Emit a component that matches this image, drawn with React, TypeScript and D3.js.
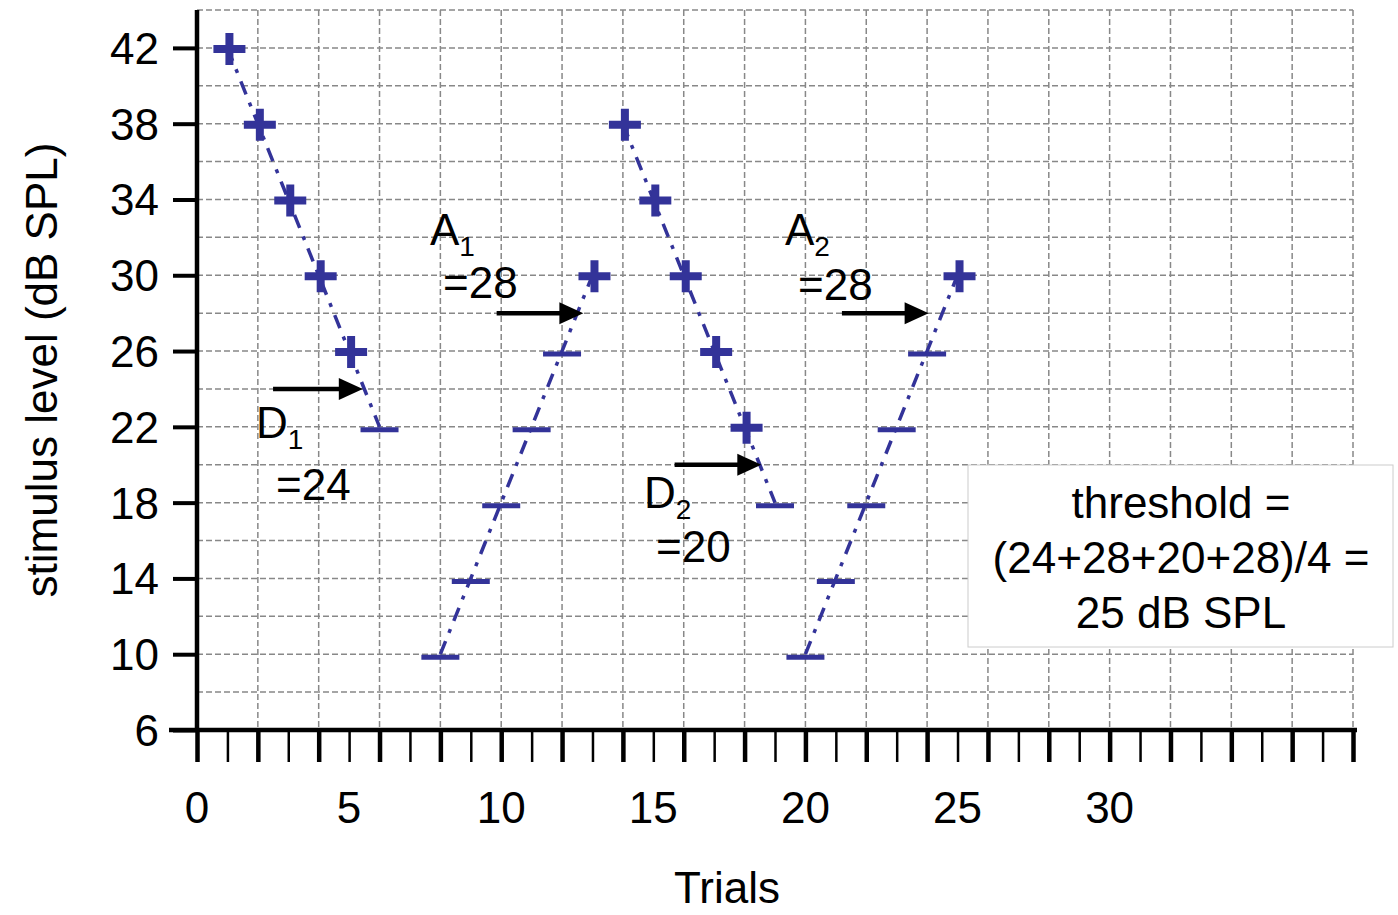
import React, { useRef, useEffect } from 'react';
import * as d3 from 'd3';

// staircase runs: trial number, stimulus level, response (+ heard / - not heard)
const run1Trials = [1, 2, 3, 4, 5, 6];
const run1Levels = [42, 38, 34, 30, 26, 22];
const run1Heard = [true, true, true, true, true, false];

const run2Trials = [8, 9, 10, 11, 12, 13];
const run2Levels = [10, 14, 18, 22, 26, 30];
const run2Heard = [false, false, false, false, false, true];

const run3Trials = [14, 15, 16, 17, 18, 19];
const run3Levels = [38, 34, 30, 26, 22, 18];
const run3Heard = [true, true, true, true, true, false];

const run4Trials = [20, 21, 22, 23, 24, 25];
const run4Levels = [10, 14, 18, 22, 26, 30];
const run4Heard = [false, false, false, false, false, true];

// reversal points
const reversalNames = ['D', 'A', 'D', 'A'];
const reversalSubs = ['1', '1', '2', '2'];
const reversalLevels = [24, 28, 20, 28];
const arrowFromTrials = [2.5, 9.85, 15.7, 21.2];
const arrowToTrials = [5.45, 12.7, 18.55, 24.05];

const yTickValues = [6, 10, 14, 18, 22, 26, 30, 34, 38, 42];
const xTickLabels = [0, 5, 10, 15, 20, 25, 30];
const thresholdLines = ['threshold =', '(24+28+20+28)/4 =', '25 dB SPL'];

// label placement (pixels) for the reversal annotations
const labelLayout = [
  { nx: 256, ny: 438, vx: 276, vy: 500 },
  { nx: 430, ny: 245, vx: 443, vy: 298 },
  { nx: 644, ny: 508, vx: 656, vy: 562 },
  { nx: 785, ny: 245, vx: 798, vy: 300 },
];

const W = 1398;
const H = 915;
const FONT = '"Liberation Sans", Arial, sans-serif';
const BLUE = '#333399';

export default function App() {
  const ref = useRef<SVGSVGElement>(null);

  useEffect(() => {
    const svg = d3.select(ref.current);
    svg.selectAll('*').remove();

    const x = d3.scaleLinear().domain([0, 38]).range([197, 1353]);
    const y = d3.scaleLinear().domain([6, 44]).range([730, 10]);

    // Grid //
    const grid = svg.append('g')
      .attr('stroke', '#888')
      .attr('stroke-width', 1.5)
      .attr('stroke-dasharray', '6,3');
    grid.selectAll('line.v')
      .data(d3.range(2, 39, 2))
      .enter()
      .append('line')
      .attr('x1', d => x(d)).attr('x2', d => x(d))
      .attr('y1', y(44)).attr('y2', y(6));
    grid.selectAll('line.h')
      .data(d3.range(8, 45, 2))
      .enter()
      .append('line')
      .attr('x1', x(0)).attr('x2', x(38))
      .attr('y1', d => y(d)).attr('y2', d => y(d));

    // Threshold box //
    svg.append('rect')
      .attr('x', 968).attr('y', 465)
      .attr('width', 425).attr('height', 182)
      .attr('fill', '#fff')
      .attr('stroke', '#ccc')
      .attr('stroke-width', 1);
    svg.append('text')
      .attr('font-family', FONT)
      .attr('font-size', 44)
      .attr('text-anchor', 'middle')
      .selectAll('tspan')
      .data(thresholdLines)
      .enter()
      .append('tspan')
      .attr('x', 1181)
      .attr('y', (d, i) => 518 + i * 55)
      .text(d => d);

    // Axes //
    const yAxis = d3.axisLeft(y)
      .tickValues(yTickValues)
      .tickSize(24)
      .tickPadding(14)
      .tickSizeOuter(0);
    const yAxisGroup = svg.append('g')
      .attr('transform', `translate(${x(0)},0)`)
      .call(yAxis);
    yAxisGroup.select('.domain').remove();
    yAxisGroup.selectAll('line').attr('stroke', '#000').attr('stroke-width', 4);
    yAxisGroup.selectAll('text')
      .attr('font-family', FONT)
      .attr('font-size', 44)
      .attr('fill', '#000')
      .attr('dy', '0.35em');
    svg.append('line')
      .attr('x1', x(0)).attr('x2', x(0))
      .attr('y1', y(44)).attr('y2', y(6) + 2)
      .attr('stroke', '#000').attr('stroke-width', 4.5);

    const xAxis = d3.axisBottom(x)
      .tickValues(d3.range(0, 39))
      .tickSize(32)
      .tickFormat(() => '')
      .tickSizeOuter(0);
    const xAxisGroup = svg.append('g')
      .attr('transform', `translate(0,${y(6)})`)
      .call(xAxis);
    xAxisGroup.select('.domain').remove();
    xAxisGroup.selectAll('.tick line')
      .attr('stroke', '#000')
      .attr('stroke-width', (d: any) => (d % 2 === 0 ? 4.5 : 2.5));
    svg.append('line')
      .attr('x1', 169).attr('x2', x(38) + 4)
      .attr('y1', y(6)).attr('y2', y(6))
      .attr('stroke', '#000').attr('stroke-width', 4.5);

    svg.append('g')
      .selectAll('text')
      .data(xTickLabels)
      .enter()
      .append('text')
      .attr('x', d => x(d))
      .attr('y', 823)
      .attr('text-anchor', 'middle')
      .attr('font-family', FONT)
      .attr('font-size', 44)
      .text(d => d);

    svg.append('text')
      .attr('x', 727).attr('y', 903)
      .attr('text-anchor', 'middle')
      .attr('font-family', FONT)
      .attr('font-size', 44)
      .text('Trials');

    svg.append('text')
      .attr('transform', `translate(57,370) rotate(-90)`)
      .attr('text-anchor', 'middle')
      .attr('font-family', FONT)
      .attr('font-size', 44)
      .text('stimulus level (dB SPL)');

    // Runs //
    const runs = [
      { t: run1Trials, v: run1Levels, h: run1Heard },
      { t: run2Trials, v: run2Levels, h: run2Heard },
      { t: run3Trials, v: run3Levels, h: run3Heard },
      { t: run4Trials, v: run4Levels, h: run4Heard },
    ];
    const lineGen = d3.line<[number, number]>()
      .x(d => x(d[0]))
      .y(d => y(d[1]));

    runs.forEach(run => {
      const pts = run.t.map((t, i) => [t, run.v[i]] as [number, number]);
      svg.append('path')
        .attr('d', lineGen(pts))
        .attr('fill', 'none')
        .attr('stroke', BLUE)
        .attr('stroke-width', 3.5)
        .attr('stroke-dasharray', '14,9,4,9');

      const marks = svg.append('g');
      run.t.forEach((t, i) => {
        if (run.h[i]) {
          marks.append('path')
            .attr('d', 'M-16,0H16M0,-16V16')
            .attr('transform', `translate(${x(t) + 2},${y(run.v[i]) + 1})`)
            .attr('stroke', BLUE)
            .attr('stroke-width', 8)
            .attr('fill', 'none');
        } else {
          marks.append('line')
            .attr('x1', x(t) - 19).attr('x2', x(t) + 19)
            .attr('y1', y(run.v[i]) + 3).attr('y2', y(run.v[i]) + 3)
            .attr('stroke', BLUE)
            .attr('stroke-width', 5);
        }
      });
    });

    // Reversal arrows and labels //
    reversalLevels.forEach((lvl, i) => {
      const yy = y(lvl);
      const x0 = x(arrowFromTrials[i]);
      const x1 = x(arrowToTrials[i]);
      svg.append('line')
        .attr('x1', x0).attr('x2', x1 - 20)
        .attr('y1', yy).attr('y2', yy)
        .attr('stroke', '#000')
        .attr('stroke-width', 4.5);
      svg.append('path')
        .attr('d', `M${x1},${yy}L${x1 - 24},${yy - 11}L${x1 - 24},${yy + 11}Z`)
        .attr('fill', '#000');

      const lay = labelLayout[i];
      const nm = svg.append('text')
        .attr('x', lay.nx).attr('y', lay.ny)
        .attr('font-family', FONT)
        .attr('font-size', 44);
      nm.append('tspan').text(reversalNames[i]);
      nm.append('tspan')
        .attr('font-size', 28)
        .attr('dy', 11)
        .text(reversalSubs[i]);
      svg.append('text')
        .attr('x', lay.vx).attr('y', lay.vy)
        .attr('font-family', FONT)
        .attr('font-size', 44)
        .text(`=${lvl}`);
    });
  }, []);

  return (
    <svg
      ref={ref}
      width={W}
      height={H}
      style={{ position: 'absolute', left: 0, top: 0, background: '#fff' }}
    />
  );
}
